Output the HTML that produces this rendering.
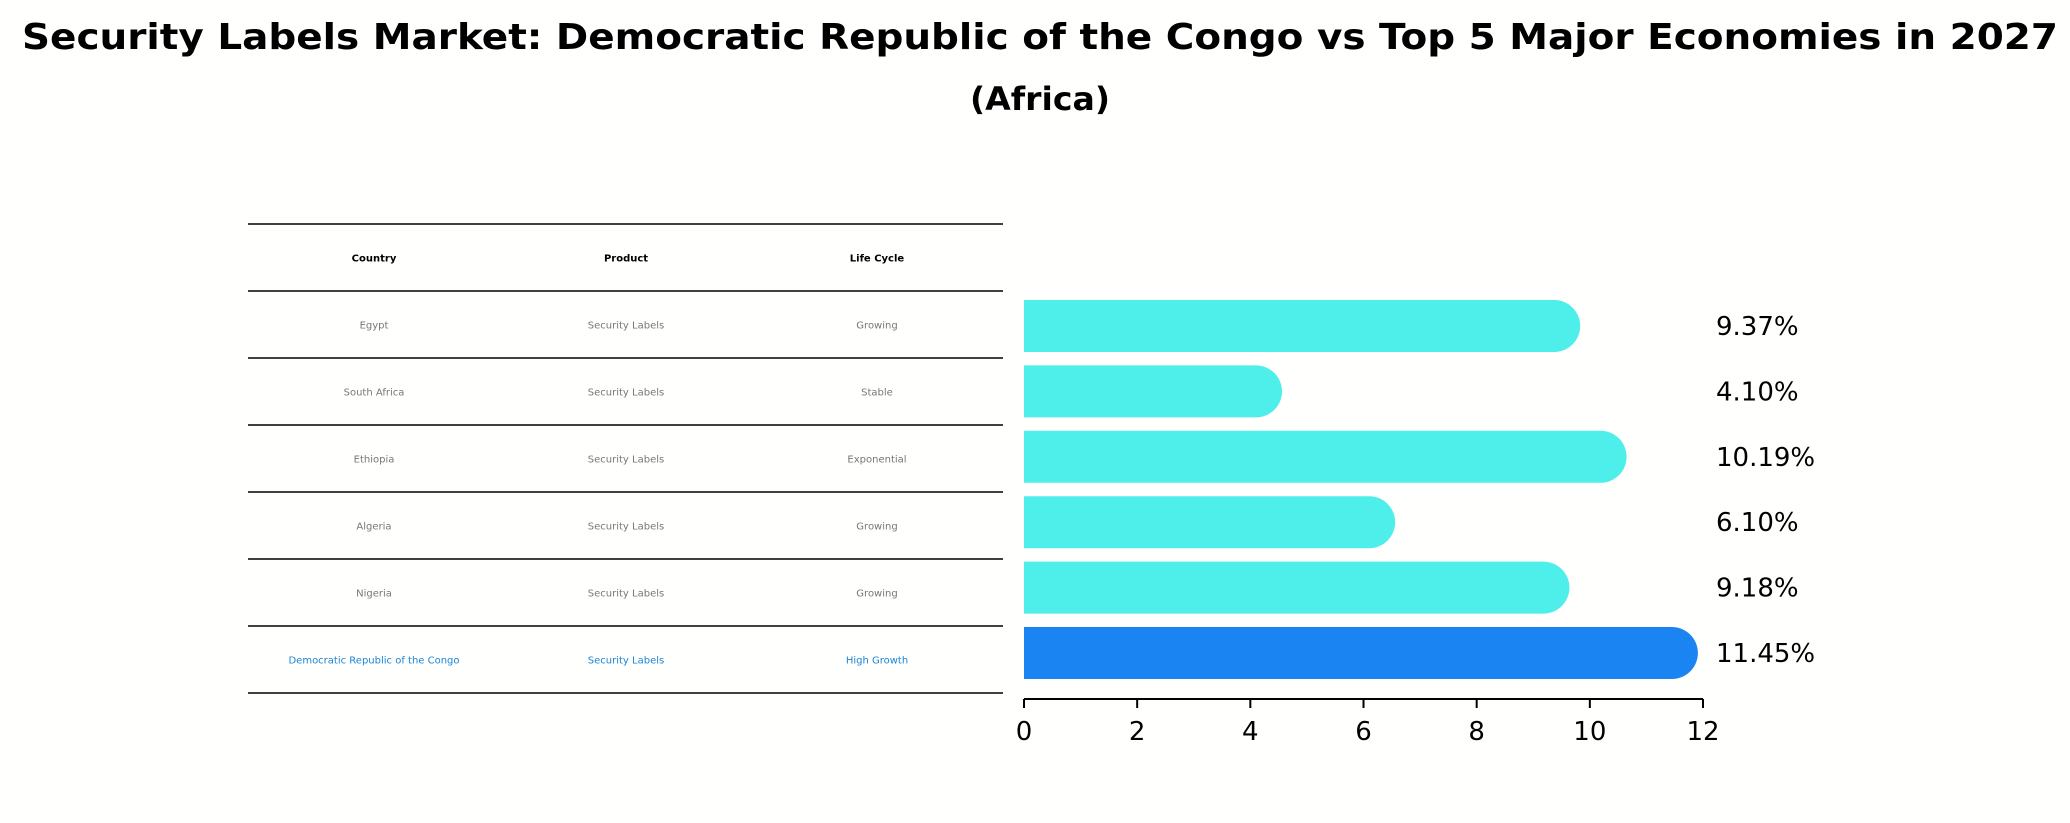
<!DOCTYPE html>
<html><head><meta charset="utf-8"><style>
body{margin:0;background:#fffffe;}
svg{display:block;font-family:"DejaVu Sans","Liberation Sans",sans-serif;}
</style></head><body>
<svg id="chart" width="2070" height="823" viewBox="0 0 2070 823" xmlns="http://www.w3.org/2000/svg">
<rect width="2070" height="823" fill="#fffffe"/>
<text x="1040" y="49" text-anchor="middle" font-size="36" font-weight="bold" textLength="2036" lengthAdjust="spacingAndGlyphs">Security Labels Market: Democratic Republic of the Congo vs Top 5 Major Economies in 2027</text>
<text x="1040" y="110" text-anchor="middle" font-size="32" font-weight="bold" textLength="140" lengthAdjust="spacingAndGlyphs">(Africa)</text>
<g id="table"></g>
<g id="bars"></g>
</svg>
<script>
const countries = ["Egypt","South Africa","Ethiopia","Algeria","Nigeria","Democratic Republic of the Congo"];
const products = ["Security Labels","Security Labels","Security Labels","Security Labels","Security Labels","Security Labels"];
const lifeCycles = ["Growing","Stable","Exponential","Growing","Growing","High Growth"];
const values = [9.37, 4.10, 10.19, 6.10, 9.18, 11.45];
const valueLabels = ["9.37%","4.10%","10.19%","6.10%","9.18%","11.45%"];
const ticks = [0,2,4,6,8,10,12];

const NS = "http://www.w3.org/2000/svg";
function mk(tag, attrs, parent){const e=document.createElementNS(NS,tag);for(const k in attrs)e.setAttribute(k,attrs[k]);parent.appendChild(e);return e;}

// table
const tbl = document.getElementById('table');
const tx0=248, tx1=1003, rowTop=224, rowH=67;
const colX=[374,626,877];
const headers=["Country","Product","Life Cycle"];
for(let i=0;i<=countries.length+1;i++){
  const l=mk('line',{x1:tx0,x2:tx1,y1:rowTop+i*rowH,y2:rowTop+i*rowH,stroke:'#000','stroke-width':1.5},tbl);
  
  
}
headers.forEach((h,j)=>{
  const t=mk('text',{x:colX[j],y:rowTop+rowH/2+4,'text-anchor':'middle','font-size':10,'font-weight':'bold',fill:'#000'},tbl);
  t.textContent=h;
  
  
});
countries.forEach((c,i)=>{
  const y=rowTop+(i+1)*rowH+rowH/2+4;
  const col = i===countries.length-1 ? '#1a85d6' : '#777';
  [c,products[i],lifeCycles[i]].forEach((v,j)=>{
    const t=mk('text',{x:colX[j],y:y,'text-anchor':'middle','font-size':10,fill:col},tbl);
    t.textContent=v;
    
    
  });
});

// bars
const g=document.getElementById('bars');
const x0=1024, xmax=12, x12=1703;
const xs=v=>x0+(v/xmax)*(x12-x0);
const barTop0=300, step=65.4, barH=52, r=26;
values.forEach((v,i)=>{
  const top=barTop0+i*step, cy=top+barH/2;
  const xe=xs(v);
  const p=mk('path',{d:`M${x0},${top} H${xe} A${r},${r} 0 0 1 ${xe},${top+barH} H${x0} Z`,fill:i===values.length-1?'#1a85f2':'#4eeeea'},g);
  
  
  const t=mk('text',{x:1716,y:cy+9,'font-size':26,fill:'#000'},g);
  t.textContent=valueLabels[i];
  
  
});
const axY=699;
const ax=mk('line',{x1:x0,x2:x12,y1:axY,y2:axY,stroke:'#000','stroke-width':2},g);


ticks.forEach(tv=>{
  const x=xs(tv);
  const tk=mk('line',{x1:x,x2:x,y1:axY,y2:axY+9,stroke:'#000','stroke-width':2},g);
  
  
  const t=mk('text',{x:x,y:axY+41,'text-anchor':'middle','font-size':26,fill:'#000'},g);
  t.textContent=String(tv);
  
  
});
</script>
</body></html>
